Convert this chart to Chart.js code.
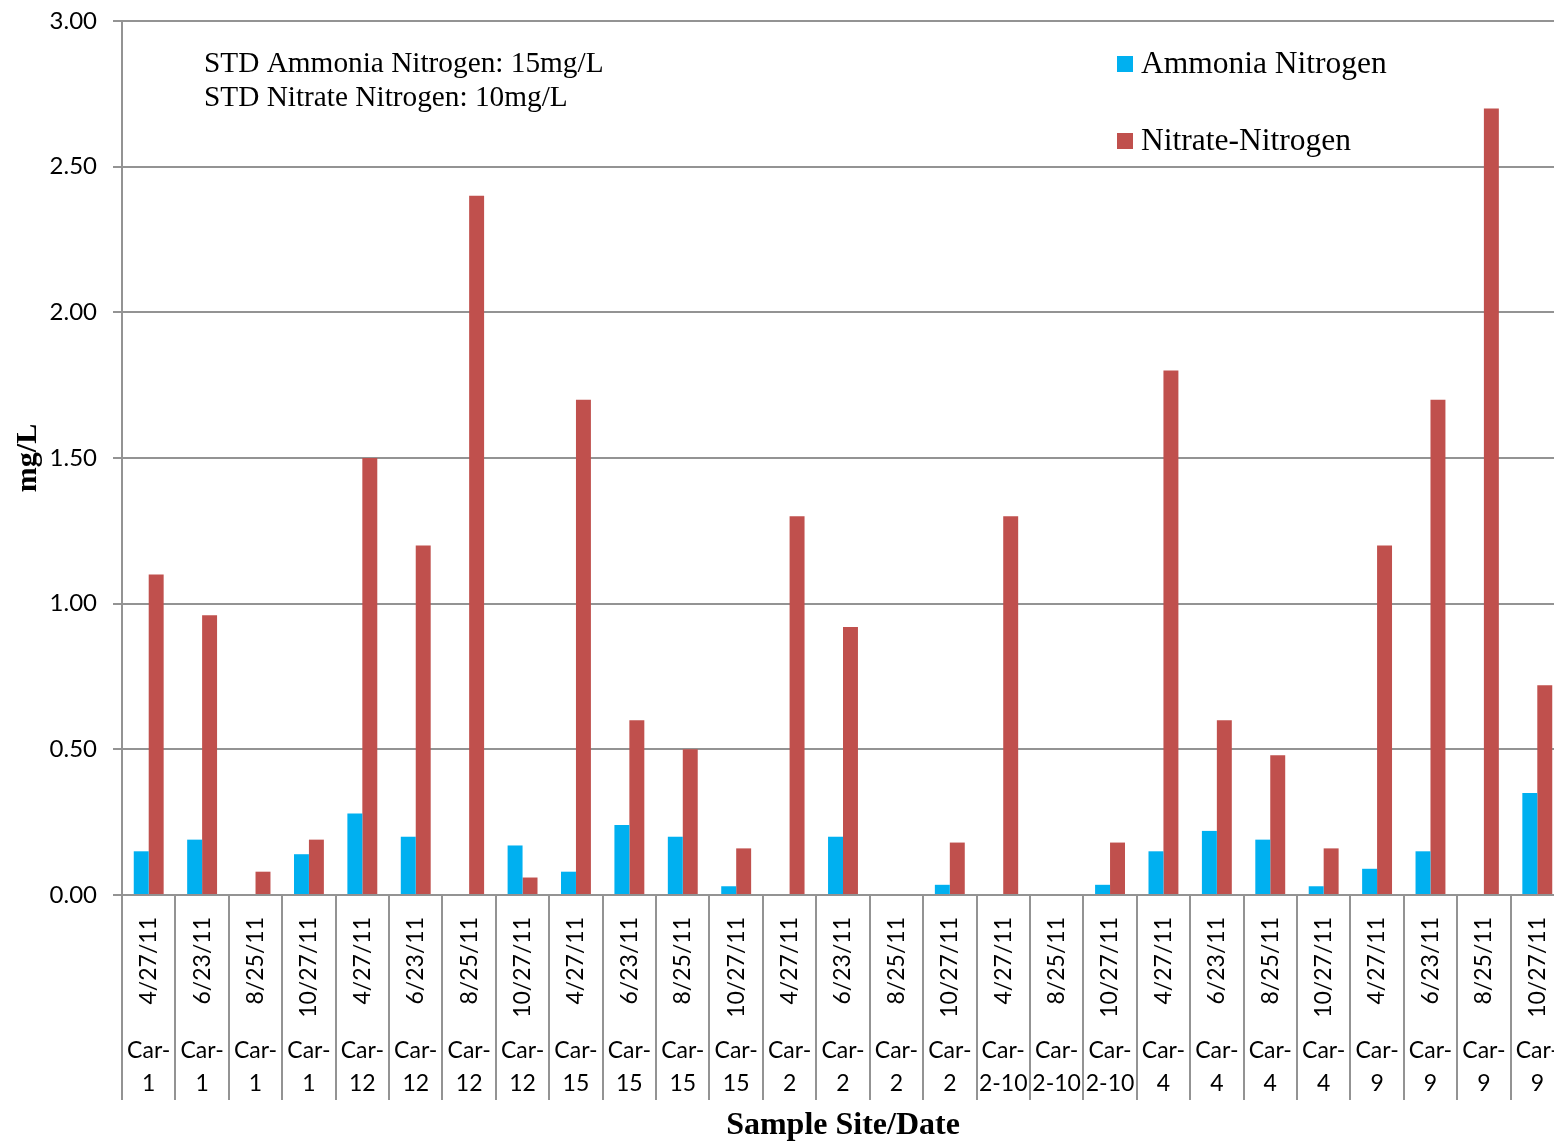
<!DOCTYPE html>
<html>
<head>
<meta charset="utf-8">
<script src="https://cdn.jsdelivr.net/npm/chart.js@4.4.1/dist/chart.umd.min.js"></script>
<style>
  body { margin: 0; background: #fff; overflow: hidden; }
</style>
</head>
<body>
<canvas id="nitrogenChart" width="1564" height="1141"></canvas>
<script>
// Sample dates and sites (one entry per bar group)
const dates = ['4/27/11', '6/23/11', '8/25/11', '10/27/11',
  '4/27/11', '6/23/11', '8/25/11', '10/27/11',
  '4/27/11', '6/23/11', '8/25/11', '10/27/11',
  '4/27/11', '6/23/11', '8/25/11', '10/27/11',
  '4/27/11', '8/25/11', '10/27/11',
  '4/27/11', '6/23/11', '8/25/11', '10/27/11',
  '4/27/11', '6/23/11', '8/25/11', '10/27/11'];
const sites = ['1', '1', '1', '1',
  '12', '12', '12', '12',
  '15', '15', '15', '15',
  '2', '2', '2', '2',
  '2-10', '2-10', '2-10',
  '4', '4', '4', '4',
  '9', '9', '9', '9'];

// Values in mg/L
const ammonia = [0.15, 0.19, 0, 0.14,
  0.28, 0.20, 0, 0.17,
  0.08, 0.24, 0.20, 0.03,
  0, 0.20, 0, 0.035,
  0, 0, 0.035,
  0.15, 0.22, 0.19, 0.03,
  0.09, 0.15, 0, 0.35];
const nitrate = [1.10, 0.96, 0.08, 0.19,
  1.50, 1.20, 2.40, 0.06,
  1.70, 0.60, 0.50, 0.16,
  1.30, 0.92, 0, 0.18,
  1.30, 0, 0.18,
  1.80, 0.60, 0.48, 0.16,
  1.20, 1.70, 2.70, 0.72];

const yTicks = [0, 0.5, 1, 1.5, 2, 2.5, 3];
const notes = ['STD Ammonia Nitrogen: 15mg/L', 'STD Nitrate Nitrogen: 10mg/L'];

const gridGray = '#939393';
const serif = '"Liberation Serif", "Times New Roman", serif';
const sans = 'Lato, "Liberation Sans", sans-serif';

// Draws the group separators, the standards note and the legend
const decorations = {
  id: 'decorations',
  afterDraw(chart) {
    const ctx = chart.ctx;
    const area = chart.chartArea;
    const x = chart.scales.x;
    const half = (x.getPixelForValue(1) - x.getPixelForValue(0)) / 2;

    ctx.save();
    ctx.strokeStyle = gridGray;
    ctx.lineWidth = 2;
    for (let i = 0; i <= dates.length; i++) {
      const px = Math.round(x.getPixelForValue(i) - half);
      ctx.beginPath();
      ctx.moveTo(px, area.bottom);
      ctx.lineTo(px, area.bottom + 205);
      ctx.stroke();
    }

    ctx.fillStyle = '#000';
    ctx.font = '29.3px ' + serif;
    ctx.textBaseline = 'middle';
    notes.forEach((t, i) => ctx.fillText(t, area.left + 82, area.top + 43 + i * 34));

    ctx.font = '31.5px ' + serif;
    chart.data.datasets.forEach((ds, i) => {
      const y = area.top + 43 + i * 77;
      ctx.fillStyle = ds.backgroundColor;
      ctx.fillRect(area.left + 995, y - 8, 16, 16);
      ctx.fillStyle = '#000';
      ctx.fillText(ds.label, area.left + 1019, y + 1);
    });
    ctx.restore();
  }
};

new Chart(document.getElementById('nitrogenChart'), {
  type: 'bar',
  data: {
    labels: dates,
    datasets: [
      { label: 'Ammonia Nitrogen', data: ammonia, backgroundColor: '#00B0F0' },
      { label: 'Nitrate-Nitrogen', data: nitrate, backgroundColor: '#C0504D' }
    ]
  },
  options: {
    responsive: false,
    animation: false,
    layout: { padding: { top: 21, right: 0, bottom: 0, left: 0 } },
    categoryPercentage: 0.56,
    barPercentage: 1,
    plugins: {
      legend: { display: false },
      tooltip: { enabled: false }
    },
    scales: {
      x: {
        offset: true,
        grid: { display: false },
        border: { display: true, color: gridGray, width: 2 },
        ticks: {
          autoSkip: false,
          minRotation: 90,
          maxRotation: 90,
          padding: 14,
          color: '#000',
          font: { family: sans, size: 23 }
        },
        afterFit(scale) {
          scale.height = 135;
          scale.paddingLeft = 0;
          scale.paddingRight = 0;
        }
      },
      x2: {
        type: 'category',
        position: 'bottom',
        offset: true,
        labels: sites.map(s => ['Car-', s]),
        grid: { display: false },
        border: { display: false },
        ticks: {
          autoSkip: false,
          maxRotation: 0,
          padding: -4,
          color: '#000',
          font: { family: sans, size: 23, lineHeight: 1.43 }
        },
        title: {
          display: true,
          text: 'Sample Site/Date',
          color: '#000',
          font: { family: serif, size: 32, weight: 'bold' },
          padding: { top: 0, bottom: -4 }
        },
        afterFit(scale) {
          scale.height = 111;
          scale.paddingLeft = 0;
          scale.paddingRight = 0;
        }
      },
      y: {
        min: 0,
        max: 3,
        afterBuildTicks(scale) { scale.ticks = yTicks.map(v => ({ value: v })); },
        grid: { color: gridGray, lineWidth: 2, tickLength: 9 },
        border: { display: true, color: gridGray, width: 2 },
        ticks: {
          padding: 16,
          color: '#000',
          font: { family: sans, size: 24 },
          callback: v => Number(v).toFixed(2)
        },
        title: {
          display: true,
          text: 'mg/L',
          color: '#000',
          font: { family: serif, size: 30, weight: 'bold' },
          padding: { top: 10, bottom: 0 }
        },
        afterFit(scale) {
          scale.width = 122;
          scale.paddingTop = 0;
          scale.paddingBottom = 0;
        }
      }
    }
  },
  plugins: [decorations]
});
</script>
</body>
</html>
